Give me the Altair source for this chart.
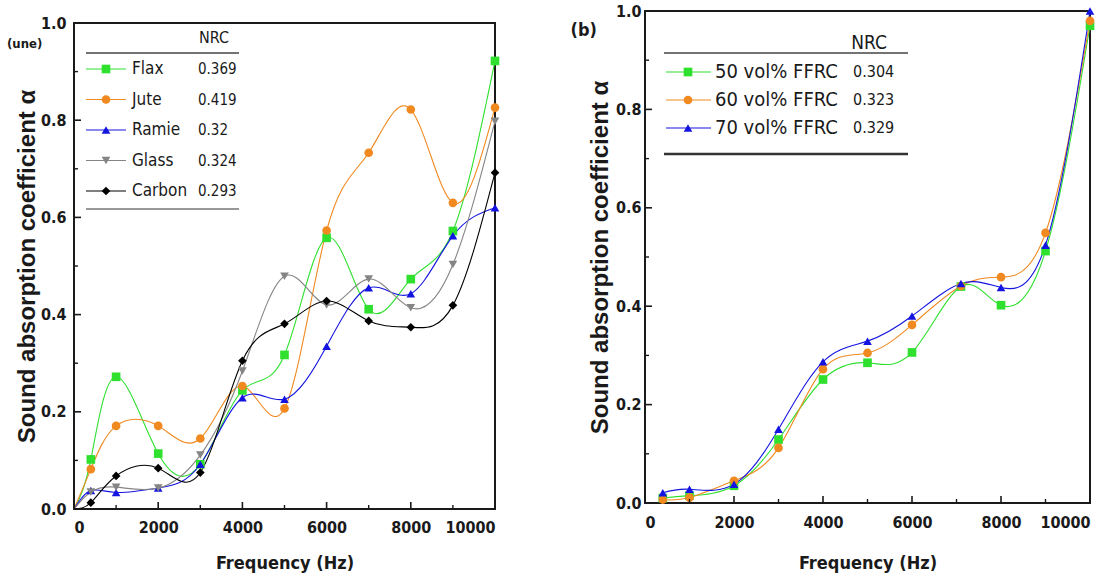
import altair as alt
import pandas as pd

# ---------------- data ----------------
freq_a = [400, 1000, 2000, 3000, 4000, 5000, 6000, 7000, 8000, 9000, 10000]
names_a = ["Flax", "Jute", "Ramie", "Glass", "Carbon"]
nrc_a = ["0.369", "0.419", "0.32", "0.324", "0.293"]
flax = [0.102, 0.272, 0.114, 0.092, 0.244, 0.317, 0.558, 0.411, 0.473, 0.572, 0.922]
jute = [0.082, 0.171, 0.171, 0.145, 0.253, 0.207, 0.573, 0.733, 0.822, 0.630, 0.826]
ramie = [0.038, 0.034, 0.043, 0.092, 0.229, 0.226, 0.335, 0.455, 0.443, 0.562, 0.620]
glass = [0.035, 0.045, 0.043, 0.111, 0.284, 0.479, 0.420, 0.473, 0.414, 0.503, 0.798]
carbon = [0.013, 0.068, 0.084, 0.075, 0.305, 0.381, 0.428, 0.387, 0.374, 0.419, 0.692]
origin_f = [0]
origin_v = [0.0]

freq_b = [400, 1000, 2000, 3000, 4000, 5000, 6000, 7100, 8000, 9000, 10000]
names_b = ["50 vol% FFRC", "60 vol% FFRC", "70 vol% FFRC"]
nrc_b = ["0.304", "0.323", "0.329"]
ffrc50 = [0.010, 0.015, 0.035, 0.129, 0.251, 0.285, 0.306, 0.440, 0.402, 0.512, 0.970]
ffrc60 = [0.007, 0.011, 0.045, 0.112, 0.272, 0.305, 0.362, 0.441, 0.459, 0.549, 0.980]
ffrc70 = [0.021, 0.028, 0.038, 0.150, 0.287, 0.329, 0.380, 0.446, 0.438, 0.524, 1.000]

x_major = [0, 2000, 4000, 6000, 8000, 10000]
x_minor = [1000, 3000, 5000, 7000, 9000]
y_major = [0.0, 0.2, 0.4, 0.6, 0.8, 1.0]
y_minor = [0.1, 0.3, 0.5, 0.7, 0.9]

# ---------------- styles ----------------
NARROW = "Liberation Sans Narrow, Arial Narrow, DejaVu Sans Condensed, Liberation Sans, sans-serif"
SANS = "Liberation Sans, Arial, sans-serif"
colors_a = ["#2fe02f", "#f0891f", "#1414e0", "#858585", "#000000"]
shapes_a = ["square", "circle", "triangle-up", "triangle-down", "diamond"]
colors_b = ["#2fe02f", "#f0891f", "#1414e0"]
shapes_b = ["square", "circle", "triangle-up"]
INK = "#1a1a1a"


def panel(freqs, names, series, colors, shapes, nrcs, width, height, lay,
          with_origin, label_pad_x, title_pad_x, label_pad_y, title_pad_y,
          extras):
    rows = []
    for n, vals in zip(names, series):
        for f, v in zip(freqs, vals):
            rows.append({"freq": f, "value": v, "series": n})
    pts = pd.DataFrame(rows)
    lrows = []
    for n, vals in zip(names, series):
        if with_origin:
            for f, v in zip(origin_f, origin_v):
                lrows.append({"freq": f, "value": v, "series": n})
        for f, v in zip(freqs, vals):
            lrows.append({"freq": f, "value": v, "series": n})
    lines = pd.DataFrame(lrows)

    xs = alt.Scale(domain=[0, 10000], nice=False, zero=False)
    ys = alt.Scale(domain=[0, 1], nice=False)
    xaxis = alt.Axis(values=x_major, format="d", ticks=False, domain=False, grid=False,
                     labelFont=NARROW, labelFontWeight="bold", labelFontSize=16,
                     labelColor=INK, labelPadding=label_pad_x,
                     title="Frequency (Hz)", titleFont=NARROW, titleFontWeight="bold",
                     titleFontSize=18, titleColor=INK, titlePadding=title_pad_x)
    yaxis = alt.Axis(values=y_major, format=".1f", ticks=False, domain=False, grid=False,
                     labelFont=NARROW, labelFontWeight="bold", labelFontSize=16,
                     labelColor=INK, labelPadding=label_pad_y,
                     title="Sound absorption coefficient α", titleFont=SANS,
                     titleFontWeight="bold", titleFontSize=24, titleColor=INK,
                     titlePadding=title_pad_y)
    X = alt.X("freq:Q", scale=xs, axis=xaxis)
    Y = alt.Y("value:Q", scale=ys, axis=yaxis)
    cs = alt.Scale(domain=names, range=colors)
    ss = alt.Scale(domain=names, range=shapes)
    C = alt.Color("series:N", scale=cs, legend=None)
    S = alt.Shape("series:N", scale=ss, legend=None)

    line_layer = alt.Chart(lines).mark_line(interpolate="natural", strokeWidth=1.1).encode(
        x=X, y=Y, color=C, detail="series:N", order="freq:Q")
    point_layer = alt.Chart(pts).mark_point(filled=True, size=75, opacity=1).encode(
        x=X, y=Y, color=C, shape=S)

    tx_major = alt.Chart(pd.DataFrame({"freq": x_major})).mark_rule(color=INK, strokeWidth=1.6).encode(
        x=X, y=alt.value(height), y2=alt.value(height - 7))
    tx_minor = alt.Chart(pd.DataFrame({"freq": x_minor})).mark_rule(color=INK, strokeWidth=1.4).encode(
        x=X, y=alt.value(height), y2=alt.value(height - 4))
    ty_major = alt.Chart(pd.DataFrame({"value": y_major})).mark_rule(color=INK, strokeWidth=1.6).encode(
        y=Y, x=alt.value(0), x2=alt.value(7))
    ty_minor = alt.Chart(pd.DataFrame({"value": y_minor})).mark_rule(color=INK, strokeWidth=1.4).encode(
        y=Y, x=alt.value(0), x2=alt.value(4))

    # legend table
    leg = pd.DataFrame({
        "series": names,
        "nrc": nrcs,
        "ly": [lay["row0"] + i * lay["dy"] for i in range(len(names))],
        "lx1": lay["sym"][0], "lx2": lay["sym"][1], "lxm": lay["sym"][2],
        "lxn": lay["name_x"], "lxv": lay["val_x"],
    })
    LY = alt.Y("ly:Q", scale=None)
    leg_line = alt.Chart(leg).mark_rule(strokeWidth=1.1).encode(
        x=alt.X("lx1:Q", scale=None), x2="lx2:Q", y=LY, color=C)
    leg_pt = alt.Chart(leg).mark_point(filled=True, size=75, opacity=1).encode(
        x=alt.X("lxm:Q", scale=None), y=LY, color=C, shape=S)
    leg_name = alt.Chart(leg).mark_text(align="left", baseline="middle", font=NARROW,
                                        fontSize=lay["name_fs"], color=INK).encode(
        x=alt.X("lxn:Q", scale=None), y=LY, text="series:N")
    leg_val = alt.Chart(leg).mark_text(align="left", baseline="middle", font=NARROW,
                                       fontSize=lay["val_fs"], color=INK).encode(
        x=alt.X("lxv:Q", scale=None), y=LY, text="nrc:N")
    one = pd.DataFrame({"k": [0]})
    hdr = alt.Chart(one).mark_text(align="center", baseline="middle", font=NARROW,
                                   fontSize=lay["hdr_fs"], color=INK, text="NRC").encode(
        x=alt.value(lay["hdr"][0]), y=alt.value(lay["hdr"][1]))
    top_rule = alt.Chart(one).mark_rule(color="#444", strokeWidth=lay["top_w"]).encode(
        x=alt.value(lay["rule_x"][0]), x2=alt.value(lay["rule_x"][1]), y=alt.value(lay["top_y"]))
    bot_rule = alt.Chart(one).mark_rule(color="#333", strokeWidth=lay["bot_w"]).encode(
        x=alt.value(lay["rule_x"][0]), x2=alt.value(lay["rule_x"][1]), y=alt.value(lay["bot_y"]))

    layers = [line_layer, point_layer, tx_major, tx_minor, ty_major, ty_minor,
              leg_line, leg_pt, leg_name, leg_val, hdr, top_rule, bot_rule] + extras(one)
    return alt.layer(*layers).properties(width=width, height=height)


def extras_a(one):
    une = alt.Chart(one).mark_text(align="left", baseline="middle", font=NARROW,
                                   fontSize=13, fontWeight="bold", color=INK, text="(une)").encode(
        x=alt.value(-67), y=alt.value(21))
    return [une]


def extras_b(one):
    b = alt.Chart(one).mark_text(align="right", baseline="middle", font=NARROW,
                                 fontSize=18, fontWeight="bold", color=INK, text="(b)").encode(
        x=alt.value(-48), y=alt.value(20))
    return [b]


lay_a = {"row0": 46, "dy": 30.5, "sym": (12, 52, 32), "name_x": 58, "val_x": 124,
         "name_fs": 17, "val_fs": 15, "hdr_fs": 16, "hdr": (140, 15), "rule_x": (12, 165),
         "top_y": 30, "bot_y": 186, "top_w": 1.5, "bot_w": 1.2}
lay_b = {"row0": 61, "dy": 28, "sym": (21, 66, 43), "name_x": 70, "val_x": 208,
         "name_fs": 20, "val_fs": 16, "hdr_fs": 19, "hdr": (224, 32), "rule_x": (19, 263),
         "top_y": 42, "bot_y": 143, "top_w": 1.5, "bot_w": 2.5}

left = panel(freq_a, names_a, [flax, jute, ramie, glass, carbon], colors_a, shapes_a, nrc_a,
             421, 486, lay_a, True, 10, 19, 8, 1, extras_a)
right = panel(freq_b, names_b, [ffrc50, ffrc60, ffrc70], colors_b, shapes_b, nrc_b,
              445, 492, lay_b, False, 11, 24, 4, 3, extras_b)

# an empty strip above the left panel, so that panel sits a little lower than the right one
strip = alt.Chart(pd.DataFrame({"k": [0]})).mark_rule(strokeOpacity=0, strokeWidth=0).encode(
    x=alt.value(0), y=alt.value(0), y2=alt.value(1)
).properties(width=421, height=2, view=alt.ViewBackground(stroke="transparent"))

chart = alt.hconcat(alt.vconcat(strip, left, spacing=0), alt.vconcat(right), spacing=68).resolve_scale(
    color="independent", shape="independent"
).properties(
    padding={"left": 6, "top": 2, "right": 0, "bottom": 0},
    background="white",
).configure_view(stroke=INK, strokeWidth=2)

chart.save("out.html", embed_options={"renderer": "svg", "actions": False})
